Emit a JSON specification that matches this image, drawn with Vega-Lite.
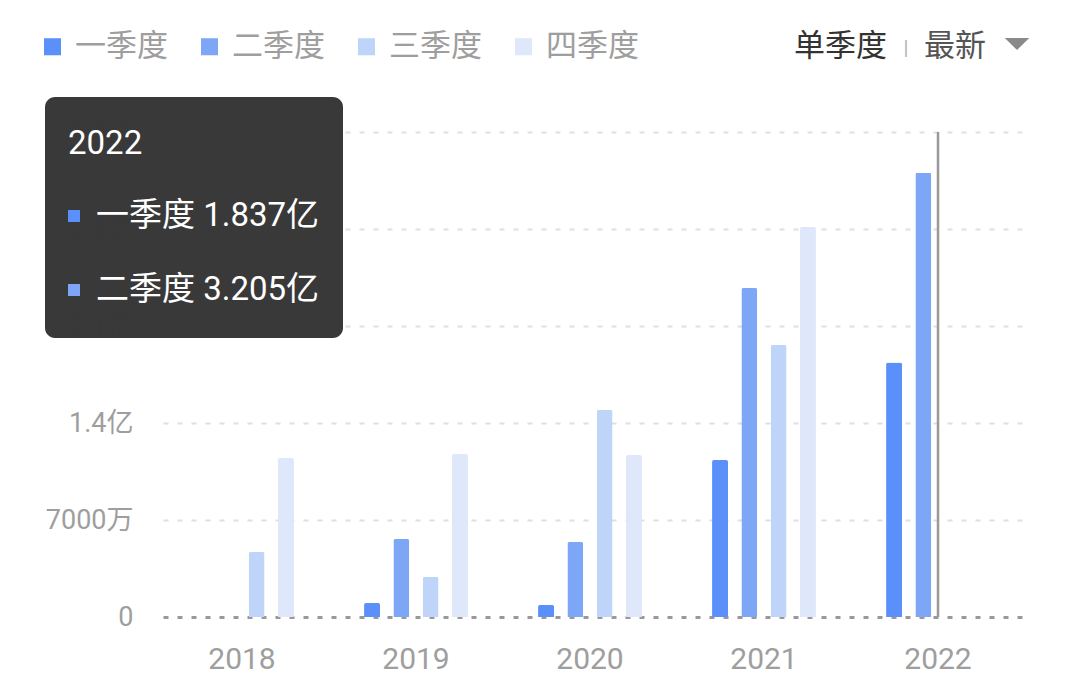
{
  "$schema": "https://vega.github.io/schema/vega-lite/v6.json",
  "width": 870,
  "height": 485,
  "autosize": {"type": "none"},
  "padding": {"left": 155, "top": 132, "right": 55, "bottom": 78},
  "background": "#ffffff",
  "config": {
    "view": {"stroke": null},
    "font": "Roboto, Noto Sans CJK SC, sans-serif"
  },
  "datasets": {
    "revenue": [
      {"year": "2018", "quarter": "三季度", "value": 0.469},
      {"year": "2018", "quarter": "四季度", "value": 1.147},
      {"year": "2019", "quarter": "一季度", "value": 0.101},
      {"year": "2019", "quarter": "二季度", "value": 0.563},
      {"year": "2019", "quarter": "三季度", "value": 0.289},
      {"year": "2019", "quarter": "四季度", "value": 1.176},
      {"year": "2020", "quarter": "一季度", "value": 0.087},
      {"year": "2020", "quarter": "二季度", "value": 0.541},
      {"year": "2020", "quarter": "三季度", "value": 1.494},
      {"year": "2020", "quarter": "四季度", "value": 1.169},
      {"year": "2021", "quarter": "一季度", "value": 1.133},
      {"year": "2021", "quarter": "二季度", "value": 2.374},
      {"year": "2021", "quarter": "三季度", "value": 1.963},
      {"year": "2021", "quarter": "四季度", "value": 2.814},
      {"year": "2022", "quarter": "一季度", "value": 1.837},
      {"year": "2022", "quarter": "二季度", "value": 3.205}
    ]
  },
  "layer": [
    {
      "data": {"name": "revenue"},
      "mark": {"type": "bar", "cornerRadiusTopLeft": 2, "cornerRadiusTopRight": 2},
      "encoding": {
        "x": {
          "field": "year", "type": "nominal",
          "scale": {"paddingInner": 0.403, "paddingOuter": 0.2015},
          "axis": {"title": null, "domain": false, "ticks": false, "grid": false, "labelAngle": 0, "labelPadding": 27, "labelFontSize": 30, "labelColor": "#9e9e9e"}
        },
        "xOffset": {
          "field": "quarter", "type": "nominal",
          "scale": {"domain": ["一季度", "二季度", "三季度", "四季度"], "paddingInner": 0.454, "paddingOuter": 0}
        },
        "y": {
          "field": "value", "type": "quantitative",
          "scale": {"domain": [0, 3.5], "nice": false},
          "axis": {
            "title": null, "domain": false, "ticks": false,
            "values": [0, 0.7, 1.4, 2.1, 2.8, 3.5],
            "labelExpr": "datum.value == 0 ? '0' : (datum.value < 1 ? format(datum.value * 10000, 'd') + '万' : format(datum.value, '.1f') + '亿')",
            "labelPadding": 22, "labelFontSize": 27, "labelColor": "#9e9e9e",
            "gridColor": {"condition": {"test": "datum.value === 0", "value": "#999999"}, "value": "#e0e0e0"},
            "gridWidth": {"condition": {"test": "datum.value === 0", "value": 3}, "value": 2},
            "gridDash": [5, 9], "gridDashOffset": 6
          }
        },
        "color": {
          "field": "quarter", "type": "nominal",
          "scale": {"domain": ["一季度", "二季度", "三季度", "四季度"], "range": ["#5b8ff9", "#7ea6f6", "#bfd4f9", "#dee8fa"]},
          "legend": {
            "orient": "none", "legendX": -118, "legendY": -101, "direction": "horizontal",
            "title": null, "padding": 0, "symbolType": "square", "symbolSize": 290, "symbolStrokeWidth": 0, "symbolOpacity": 1,
            "labelFontSize": 31, "labelColor": "#9e9e9e", "labelOffset": 7, "columnPadding": 26
          }
        }
      }
    },
    {
      "data": {"values": [{"year": "2022"}]},
      "mark": {"type": "rule", "color": "#999999", "strokeWidth": 2.5},
      "encoding": {"x": {"field": "year", "type": "nominal"}}
    },
    {
      "data": {"values": [{"box": "tooltip"}]},
      "mark": {"type": "rect", "x": -110, "x2": 188, "y": -35, "y2": 206, "fill": "#363636", "opacity": 0.985, "cornerRadius": 10},
      "encoding": {}
    },
    {
      "data": {"values": [{"label": "2022"}]},
      "mark": {"type": "text", "x": -87, "y": 12, "align": "left", "baseline": "middle", "fontSize": 33, "color": "#ffffff"},
      "encoding": {"text": {"field": "label"}}
    },
    {
      "data": {"values": [{"label": "一季度 1.837亿"}]},
      "mark": {"type": "text", "x": -59, "y": 84, "align": "left", "baseline": "middle", "fontSize": 33, "color": "#ffffff"},
      "encoding": {"text": {"field": "label"}}
    },
    {
      "data": {"values": [{"label": "二季度 3.205亿"}]},
      "mark": {"type": "text", "x": -59, "y": 158, "align": "left", "baseline": "middle", "fontSize": 33, "color": "#ffffff"},
      "encoding": {"text": {"field": "label"}}
    },
    {
      "data": {"values": [{"quarter": "一季度"}]},
      "mark": {"type": "point", "shape": "square", "size": 144, "filled": true, "opacity": 1, "x": -81, "y": 84, "color": "#5b8ff9"},
      "encoding": {}
    },
    {
      "data": {"values": [{"quarter": "二季度"}]},
      "mark": {"type": "point", "shape": "square", "size": 144, "filled": true, "opacity": 1, "x": -81, "y": 158, "color": "#7ea6f6"},
      "encoding": {}
    },
    {
      "data": {"values": [{"label": "单季度"}]},
      "mark": {"type": "text", "x": 639, "y": -85, "align": "left", "baseline": "middle", "fontSize": 31, "color": "#333333"},
      "encoding": {"text": {"field": "label"}}
    },
    {
      "data": {"values": [{"label": "|"}]},
      "mark": {"type": "text", "x": 751, "y": -83, "align": "center", "baseline": "middle", "fontSize": 20, "color": "#b0b0b0"},
      "encoding": {"text": {"field": "label"}}
    },
    {
      "data": {"values": [{"label": "最新"}]},
      "mark": {"type": "text", "x": 769, "y": -85, "align": "left", "baseline": "middle", "fontSize": 31, "color": "#555555"},
      "encoding": {"text": {"field": "label"}}
    },
    {
      "data": {"values": [{"label": "dropdown"}]},
      "mark": {"type": "point", "shape": "M-1,-0.5L1,-0.5L0,0.5Z", "size": 600, "filled": true, "opacity": 1, "x": 862, "y": -88, "color": "#8a8a8a"},
      "encoding": {}
    }
  ]
}
